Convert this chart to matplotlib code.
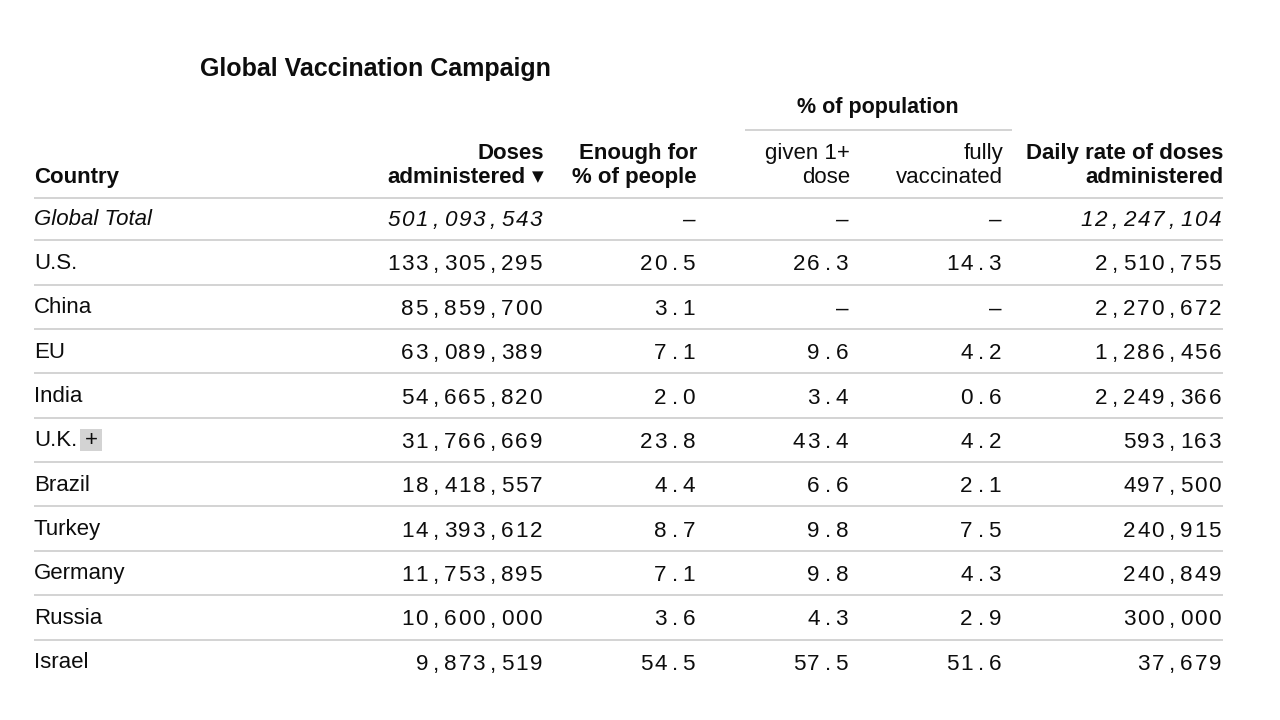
import matplotlib
matplotlib.use("Agg")
import matplotlib.pyplot as plt
from matplotlib.patches import Rectangle

plt.rcParams['font.family'] = ['Liberation Sans', 'DejaVu Sans']

title = "Global Vaccination Campaign"
countries = ["Global Total", "U.S.", "China", "EU", "India", "U.K.", "Brazil",
             "Turkey", "Germany", "Russia", "Israel"]
doses = ["501,093,543", "133,305,295", "85,859,700", "63,089,389", "54,665,820",
         "31,766,669", "18,418,557", "14,393,612", "11,753,895", "10,600,000", "9,873,519"]
enough = ["–", "20.5", "3.1", "7.1", "2.0", "23.8", "4.4", "8.7", "7.1", "3.6", "54.5"]
given1 = ["–", "26.3", "–", "9.6", "3.4", "43.4", "6.6", "9.8", "9.8", "4.3", "57.5"]
fully = ["–", "14.3", "–", "4.2", "0.6", "4.2", "2.1", "7.5", "4.3", "2.9", "51.6"]
daily = ["12,247,104", "2,510,755", "2,270,672", "1,286,456", "2,249,366",
         "593,163", "497,500", "240,915", "240,849", "300,000", "37,679"]

fig = plt.figure(figsize=(12.8, 7.2), dpi=100)
ax = fig.add_axes([0, 0, 1, 1])
ax.set_xlim(0, 1280)
ax.set_ylim(720, 0)
ax.axis('off')

TXT = '#0d0d0d'
GRID = '#cccccc'
left, right = 34, 1223
col_right = [543, 696, 849, 1002, 1222]
pitch = 14.25
row0, row_h = 218.1, 44.36

def mono(x_right, y, s, italic=False):
    n = len(s)
    for k, ch in enumerate(s):
        cx = x_right - (n - k - 0.5) * pitch
        ax.text(cx, y, ch, ha='center', va='baseline', fontsize=16.2, color=TXT,
                family='Liberation Sans', style='italic' if italic else 'normal')

# Title
ax.text(200, 76, title, ha='left', va='baseline', fontsize=18, fontweight='bold', color=TXT)

# Group header
ax.text(878, 113, "% of population", ha='center', va='baseline', fontsize=15.5,
        fontweight='bold', color=TXT)
ax.plot([745, 1012], [130, 130], color=GRID, lw=1.2, solid_capstyle='butt')

# Column headers
hdr_fs = 16
b1, b2 = 159, 183
ax.text(left, b2, "Country", ha='left', va='baseline', fontsize=hdr_fs, fontweight='bold', color=TXT)
ax.text(544, b1, "Doses", ha='right', va='baseline', fontsize=hdr_fs, fontweight='bold', color=TXT)
ax.text(525, b2, "administered", ha='right', va='baseline', fontsize=hdr_fs, fontweight='bold', color=TXT)
ax.text(538, 177, "▼", ha='center', va='center', fontsize=11, color=TXT, family='DejaVu Sans')
ax.text(697, b1, "Enough for", ha='right', va='baseline', fontsize=hdr_fs, fontweight='bold', color=TXT)
ax.text(697, b2, "% of people", ha='right', va='baseline', fontsize=hdr_fs, fontweight='bold', color=TXT)
ax.text(850, b1, "given 1+", ha='right', va='baseline', fontsize=hdr_fs, color=TXT)
ax.text(850, b2, "dose", ha='right', va='baseline', fontsize=hdr_fs, color=TXT)
ax.text(1003, b1, "fully", ha='right', va='baseline', fontsize=hdr_fs, color=TXT)
ax.text(1003, b2, "vaccinated", ha='right', va='baseline', fontsize=hdr_fs, color=TXT)
ax.text(1223, b1, "Daily rate of doses", ha='right', va='baseline', fontsize=hdr_fs, fontweight='bold', color=TXT)
ax.text(1223, b2, "administered", ha='right', va='baseline', fontsize=hdr_fs, fontweight='bold', color=TXT)

ax.plot([left, right], [198, 198], color=GRID, lw=1.2, solid_capstyle='butt')

for i, c in enumerate(countries):
    y = row0 + i * row_h
    it = (i == 0)
    ax.text(left, y + 6.5, c, ha='left', va='baseline', fontsize=16, color=TXT,
            style='italic' if it else 'normal')
    if c == "U.K.":
        ax.add_patch(Rectangle((80, y - 11), 22, 22, facecolor='#d3d3d3', edgecolor='none'))
        ax.text(91, y + 6.5, "+", ha='center', va='baseline', fontsize=16, color=TXT)
    for xr, col in zip(col_right, [doses, enough, given1, fully, daily]):
        mono(xr, y + 8, col[i], italic=it)
    if i < len(countries) - 1:
        ly = y + row_h / 2
        ax.plot([left, right], [ly, ly], color=GRID, lw=1.2, solid_capstyle='butt')

fig.savefig("out.png", dpi=100, facecolor='white')
